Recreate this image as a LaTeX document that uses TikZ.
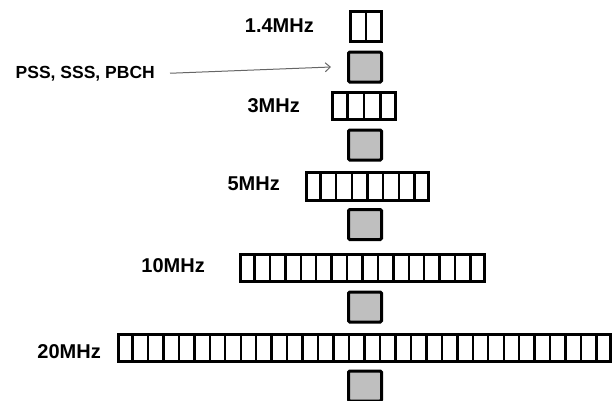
\documentclass[tikz,border=0pt]{standalone}
\usepackage{fontspec}
\setmainfont{Liberation Sans}
\usetikzlibrary{calc,arrows.meta}
\tikzset{
  band/.style={draw=black, line width=3pt, fill=white, inner sep=0pt},
  divider/.style={draw=black, line width=2.4pt},
  slot/.style={draw=black, line width=3pt, fill=black!25, inner sep=0pt,
    minimum width=33pt, minimum height=30pt, rounded corners=1.2pt},
  bwlabel/.style={anchor=base east, inner sep=0pt, font=\fontsize{20}{24}\selectfont\bfseries},
  chlabel/.style={anchor=base east, inner sep=0pt, font=\fontsize{17.5}{21}\selectfont\bfseries},
  pointer/.style={draw=black!60, line width=1pt, -{Straight Barb[length=5pt,width=9pt]}}
}
\begin{document}
\begin{tikzpicture}[x=1pt,y=-1pt]
  \useasboundingbox (0,0) rectangle (614,400);

  % resource-block bands, one per bandwidth, split into equal cells
  \foreach \nm/\cx/\cy/\w/\h/\n in {
      b1/366/26.5/34/33/2,
      b2/364/106/66/30/4,
      b3/367.5/186.5/125/31/8,
      b4/362.5/268/247/30/16,
      b5/364.5/348/495/30/32} {
    \node[band, minimum width={(\w-3)*1pt}, minimum height={(\h-3)*1pt}] (\nm) at (\cx,\cy) {};
    \pgfmathtruncatemacro\lastcut{\n-1}
    \foreach \i in {1,...,\lastcut} {
      \draw[divider] ($(\nm.north west)!\i/\n!(\nm.north east)$) -- ($(\nm.south west)!\i/\n!(\nm.south east)$);
    }
  }

  % central synchronisation / broadcast blocks
  \node[slot] (g1) at (365,67) {};
  \node[slot] (g2) at (365,145) {};
  \node[slot] (g3) at (365,224.5) {};
  \node[slot] (g4) at (365,307) {};
  \node[slot] (g5) at (365,386) {};

  % bandwidth labels
  \node[bwlabel] (l1) at (314,32) {1.4MHz};
  \node[bwlabel] (l2) at (300,112) {3MHz};
  \node[bwlabel] (l3) at (280,190) {5MHz};
  \node[bwlabel] (l4) at (205,272) {10MHz};
  \node[bwlabel] (l5) at (101,358) {20MHz};

  % channel label and pointer
  \node[chlabel] (pss) at (155,78) {PSS, SSS, PBCH};
  \draw[pointer] ([xshift=15pt]pss.east) -- ([xshift=-16pt]g1.west);
\end{tikzpicture}
\end{document}
